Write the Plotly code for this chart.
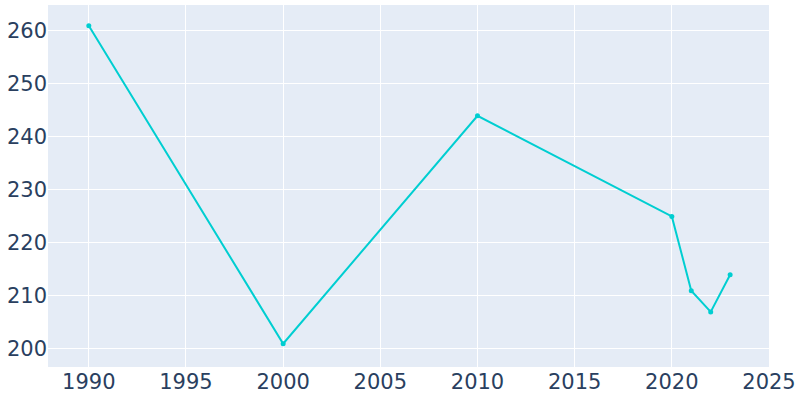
import plotly.graph_objects as go

years = [1990, 2000, 2010, 2020, 2021, 2022, 2023]
population = [261, 201, 244, 225, 211, 207, 214]

fig = go.Figure()
fig.add_trace(go.Scatter(
    x=years, y=population, mode="lines+markers",
    line=dict(color="#00CED1", width=2),
    marker=dict(color="#00CED1", size=5),
))
fig.update_layout(
    template="plotly",
    width=800, height=400,
    margin=dict(l=48, r=31, t=5, b=33),
    showlegend=False,
    font=dict(family="DejaVu Sans", size=21, color="#2a3f5f"),
)
fig.update_xaxes(range=[1987.9, 2025], dtick=5, tick0=1990)
fig.update_yaxes(range=[196.6, 264.9], dtick=10)
fig.write_html("out.html", config={"displayModeBar": False},
               post_script="document.body.style.margin='0';")
